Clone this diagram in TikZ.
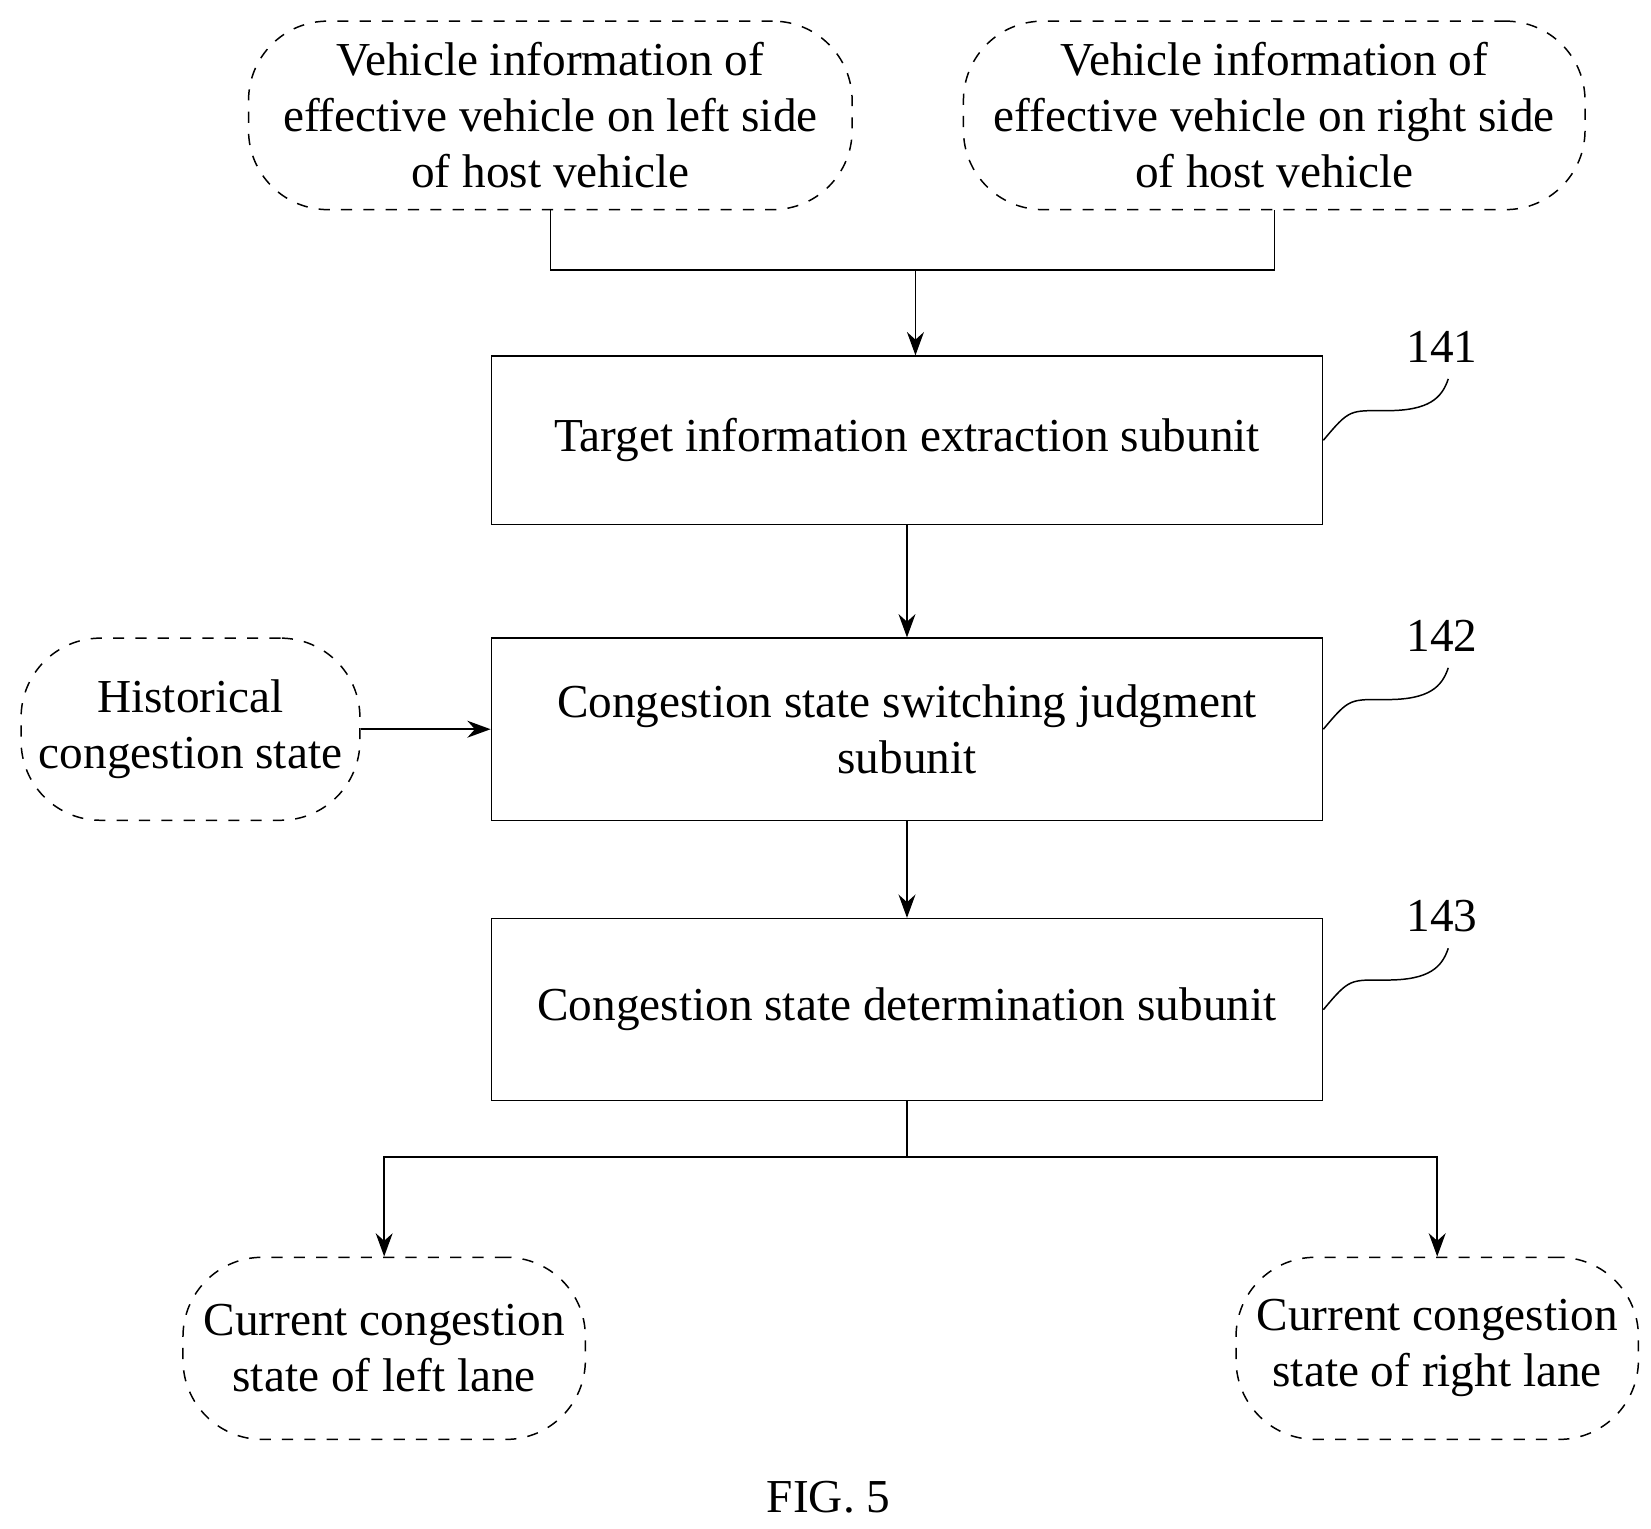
\documentclass[tikz,border=0pt]{standalone}
\usepackage{fontspec}
\setmainfont{Liberation Serif}
\usetikzlibrary{positioning,arrows.meta}
\begin{document}
\begin{tikzpicture}[x=0.01cm,y=-0.01cm,font=\fontsize{12.7}{15}\selectfont]
\tikzstyle{term}=[draw,dashed,rounded corners=0.75cm,align=center,inner sep=0pt]
\tikzstyle{unit}=[draw,align=center,minimum width=7.85cm,inner sep=0pt]
\tikzstyle{link}=[-{Stealth[length=2.2mm,width=1.6mm]}]
\useasboundingbox (0,0) rectangle (1560,1444);

\node[term,minimum width=5.7cm,minimum height=1.78cm] (left) at (520,109) {Vehicle information of\\effective vehicle on left side\\of host vehicle};
\node[term,minimum width=5.87cm,minimum height=1.78cm] (right) at (1204,109) {Vehicle information of\\effective vehicle on right side\\of host vehicle};

\node[unit,minimum height=1.59cm] (extract) at (857,416) {Target information extraction subunit};
\node[unit,minimum height=1.72cm] (switch) at (857,689) {Congestion state switching judgment\\subunit};
\node[unit,minimum height=1.72cm] (determine) at (857,954) {Congestion state determination subunit};

\node[term,minimum width=3.2cm,minimum height=1.72cm] (history) at (180,689) {Historical\\congestion state};
\node[term,minimum width=3.8cm,minimum height=1.72cm] (curleft) at (363,1274) {Current congestion\\state of left lane};
\node[term,minimum width=3.8cm,minimum height=1.72cm] (curright) at (1358,1274) {Current congestion\\state of right lane};

\coordinate (join) at (865,255);
\coordinate (split) at (857,1093);
\draw (left.south) |- (join) -| (right.south);
\draw[link] (join) -- (join |- extract.north);
\draw[link] (extract) -- (switch);
\draw[link] (switch) -- (determine);
\draw[link] (history) -- (switch);
\draw (determine.south) -- (split);
\draw[link] (split) -| (curleft.north);
\draw[link] (split) -| (curright.north);

% reference numerals
\foreach \n/\u in {141/extract,142/switch,143/determine}
{
  \node (n\n) at ([shift={(112,-88)}]\u.east) {\n};
  \draw[shift={(\u.east)}] (0,0) .. controls (25,-30) and (25,-28) .. (60,-28)
    .. controls (100,-28) and (112,-40) .. (118,-58);
}

\node (fig) at (783,1415) {FIG. 5};
\end{tikzpicture}
\end{document}
